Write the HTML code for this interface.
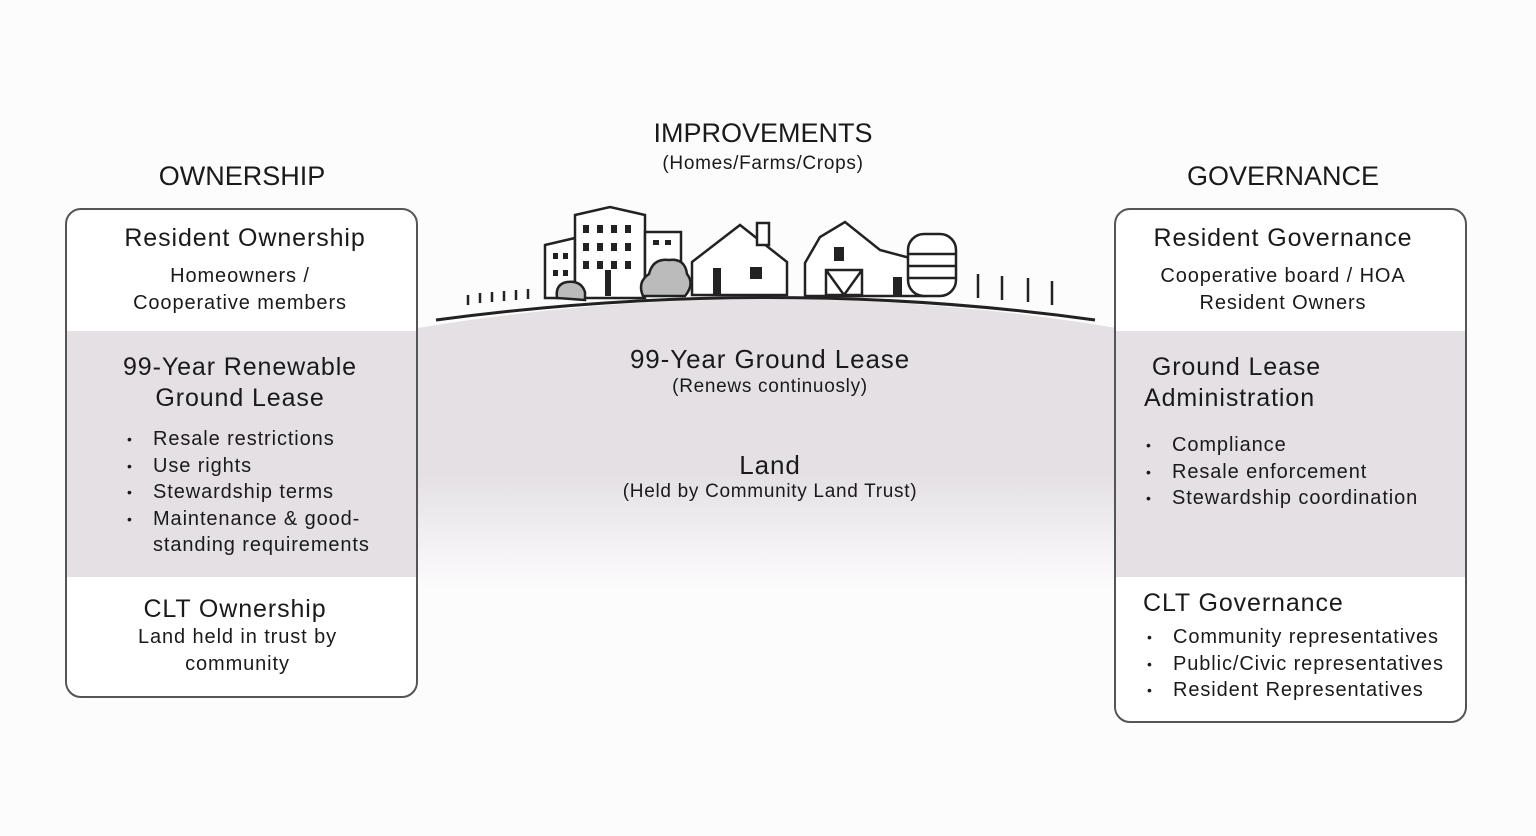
<!DOCTYPE html>
<html><head><style>
body{margin:0;width:1536px;height:836px;background:#fdfcfd;font-family:"Liberation Sans",sans-serif;color:#1a1a1a;position:relative;overflow:hidden}
.t{position:absolute;white-space:nowrap}
.c{text-align:center}
.s{letter-spacing:0.7px}
.b{letter-spacing:0.9px}
.box{position:absolute;border:2px solid #555;border-radius:16px;box-sizing:border-box;overflow:hidden;background:#fff}
.band{position:absolute;left:0;right:0;background:#e4e0e4}
ul{margin:0;padding:0;list-style:none;letter-spacing:0.9px}
li{position:relative;padding-left:26px;line-height:26.5px}
li:before{content:"•";position:absolute;left:0;font-size:14px}
</style></head><body>
<svg style="position:absolute;left:0;top:0" width="1536" height="836">
<defs><linearGradient id="g" x1="0" y1="0" x2="0" y2="1">
<stop offset="0" stop-color="#e4e0e4"/><stop offset="0.6" stop-color="#e4e0e4"/><stop offset="1" stop-color="#fdfcfd"/></linearGradient></defs>
<path d="M418 328 Q770 270 1116 328 L1116 590 L418 590 Z" fill="url(#g)"/>
<path d="M436 320 Q770 275 1095 320" fill="none" stroke="#222" stroke-width="3"/>
<g fill="#fff" stroke="#222" stroke-width="2.5">
<polygon points="545,245 575,238 575,298 545,298"/>
<polygon points="575,215 610,207 645,215 645,298 575,298"/>
<rect x="645" y="232" width="36" height="62"/>
<polygon points="692,262 740,225 787,262 787,295 692,295"/>
<rect x="757" y="223" width="12" height="22"/>
<polygon points="805,263 820,237 845,222 880,250 925,262 925,296 805,296"/>
<rect x="908" y="234" width="48" height="62" rx="16"/>
<path d="M643 296 q-6 -14 6 -22 q4 -16 20 -14 q16 -2 18 14 q8 10 -2 22 z" fill="#bbb"/>
<path d="M557 298 q-2 -14 10 -16 q14 -2 18 10 l0 8 z" fill="#bbb"/>
</g>
<g fill="#222">
<rect x="583" y="225" width="6" height="8"/><rect x="597" y="225" width="6" height="8"/><rect x="611" y="225" width="6" height="8"/><rect x="625" y="225" width="6" height="8"/>
<rect x="583" y="243" width="6" height="8"/><rect x="597" y="243" width="6" height="8"/><rect x="611" y="243" width="6" height="8"/><rect x="625" y="243" width="6" height="8"/>
<rect x="583" y="261" width="6" height="8"/><rect x="597" y="261" width="6" height="8"/><rect x="611" y="261" width="6" height="8"/><rect x="625" y="261" width="6" height="8"/>
<rect x="553" y="253" width="5" height="6"/><rect x="563" y="253" width="5" height="6"/><rect x="553" y="270" width="5" height="6"/><rect x="563" y="270" width="5" height="6"/>
<rect x="653" y="240" width="6" height="5"/><rect x="665" y="240" width="6" height="5"/>
<rect x="605" y="270" width="6" height="26"/>
<rect x="713" y="268" width="8" height="26"/><rect x="750" y="267" width="12" height="12"/>
<rect x="834" y="247" width="10" height="14"/><rect x="893" y="277" width="9" height="18"/>
</g>
<g stroke="#222" stroke-width="2.5" fill="none">
<path d="M826 270 h36 v25 h-36 z M826 270 l18 25 l18 -25"/>
<path d="M908 254 h48 M908 266 h48 M908 278 h48"/>
<path d="M468 305 v-10 M480 303 v-10 M492 302 v-10 M504 301 v-10 M516 300 v-10 M528 299 v-10"/>
<path d="M978 298 v-24 M1002 300 v-24 M1028 302 v-24 M1052 305 v-24"/>
</g>
</svg>

<div class="t c" style="left:563px;width:400px;top:118px;font-size:27px">IMPROVEMENTS</div>
<div class="t c s" style="left:563px;width:400px;top:153px;font-size:19px">(Homes/Farms/Crops)</div>
<div class="t c" style="left:92px;width:300px;top:161px;font-size:27px">OWNERSHIP</div>
<div class="t c" style="left:1133px;width:300px;top:161px;font-size:27px">GOVERNANCE</div>

<div class="box" style="left:65px;top:208px;width:353px;height:490px">
<div class="band" style="top:121px;height:246px"></div>
</div>
<div class="t c b" style="left:65px;width:360px;top:224px;font-size:25px">Resident Ownership</div>
<div class="t c b" style="left:65px;width:350px;top:263px;font-size:20px;line-height:27px">Homeowners /<br>Cooperative members</div>
<div class="t c b" style="left:65px;width:350px;top:352px;font-size:25px;line-height:31px">99-Year Renewable<br>Ground Lease</div>
<ul class="t" style="left:127px;top:426px;font-size:20px">
<li>Resale restrictions</li><li>Use rights</li><li>Stewardship terms</li><li>Maintenance &amp; good-<br>standing requirements</li></ul>
<div class="t c b" style="left:60px;width:350px;top:595px;font-size:25px">CLT Ownership</div>
<div class="t c b" style="left:60px;width:355px;top:624px;font-size:20px;line-height:27px">Land held in trust by<br>community</div>

<div class="t c b" style="left:570px;width:400px;top:344px;font-size:26px">99-Year Ground Lease</div>
<div class="t c s" style="left:570px;width:400px;top:376px;font-size:19px">(Renews continuosly)</div>
<div class="t c b" style="left:570px;width:400px;top:450px;font-size:26px">Land</div>
<div class="t c s" style="left:570px;width:400px;top:481px;font-size:19px">(Held by Community Land Trust)</div>

<div class="box" style="left:1114px;top:208px;width:353px;height:515px">
<div class="band" style="top:121px;height:246px"></div>
</div>
<div class="t c b" style="left:1128px;width:310px;top:224px;font-size:25px">Resident Governance</div>
<div class="t c b" style="left:1128px;width:310px;top:263px;font-size:20px;line-height:27px">Cooperative board / HOA<br>Resident Owners</div>
<div class="t b" style="left:1144px;top:352px;font-size:25px;line-height:31px">&nbsp;Ground Lease<br>Administration</div>
<ul class="t" style="left:1146px;top:432px;font-size:20px">
<li>Compliance</li><li>Resale enforcement</li><li>Stewardship coordination</li></ul>
<div class="t b" style="left:1143px;top:589px;font-size:25px">CLT Governance</div>
<ul class="t" style="left:1147px;top:624px;font-size:20px">
<li>Community representatives</li><li>Public/Civic representatives</li><li>Resident Representatives</li></ul>
</body></html>
